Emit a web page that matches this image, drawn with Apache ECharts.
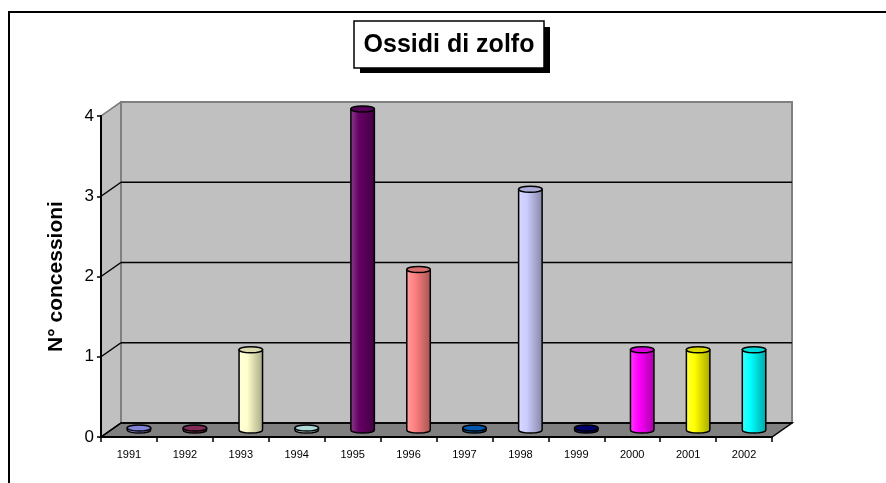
<!DOCTYPE html>
<html>
<head>
<meta charset="utf-8">
<title>Ossidi di zolfo</title>
<script src="https://cdn.jsdelivr.net/npm/echarts@6.0.0/dist/echarts.min.js"></script>
<style>
  html, body { margin: 0; padding: 0; background: #fff; }
  #chart { width: 886px; height: 483px; }
</style>
</head>
<body>
<div id="chart"></div>
<script>
// Chart data
const categories = ['1991', '1992', '1993', '1994', '1995', '1996', '1997', '1998', '1999', '2000', '2001', '2002'];
const values = [0, 0, 1, 0, 4, 2, 0, 3, 0, 1, 1, 1];
const barColors = ['#9999FF', '#993366', '#FFFFCC', '#CCFFFF', '#660066', '#FF8080',
                   '#0066CC', '#CCCCFF', '#000080', '#FF00FF', '#FFFF00', '#00FFFF'];
const yTicks = [0, 1, 2, 3, 4];

// 3D depth offset of the back wall
const DX = 20;
const DY = -14;

// mix a hex colour with white (amt > 0) or black (amt < 0)
function shade(hex, amt) {
    const n = parseInt(hex.slice(1), 16);
    let rgb = [(n >> 16) & 255, (n >> 8) & 255, n & 255];
    rgb = rgb.map(c => Math.round(amt >= 0 ? c + (255 - c) * amt : c * (1 + amt)));
    return 'rgb(' + rgb.join(',') + ')';
}

// Walls and floor
function renderWalls(params, api) {
    const cs = params.coordSys;
    const l = cs.x, t = cs.y, r = cs.x + cs.width, b = cs.y + cs.height;
    const grey = '#808080';
    return {
        type: 'group',
        children: [
            { type: 'polygon', shape: { points: [[l, t], [l + DX, t + DY], [l + DX, b + DY], [l, b]] },
              style: { fill: '#c0c0c0', stroke: grey, lineWidth: 1.5 } },
            { type: 'rect', shape: { x: l + DX, y: t + DY, width: cs.width, height: cs.height },
              style: { fill: '#c0c0c0', stroke: grey, lineWidth: 2 } },
            { type: 'polygon', shape: { points: [[l, b], [l + DX, b + DY], [r + DX, b + DY], [r, b]] },
              style: { fill: '#808080', stroke: '#000', lineWidth: 1.5 } }
        ]
    };
}

// Gridlines on back wall and side wall
function renderGrid(params, api) {
    const cs = params.coordSys;
    const v = api.value(1);
    const y = api.coord([0, v])[1];
    const l = cs.x, r = cs.x + cs.width;
    const top = v === yTicks[yTicks.length - 1];
    const col = top ? '#808080' : '#000';
    return {
        type: 'group',
        children: [
            { type: 'line', shape: { x1: l, y1: y, x2: l + DX, y2: y + DY },
              style: { stroke: col, lineWidth: 1.5 } },
            { type: 'line', shape: { x1: l + DX, y1: y + DY, x2: r + DX, y2: y + DY },
              style: { stroke: col, lineWidth: top ? 2 : 1.5 } }
        ]
    };
}

// Cylinder bars
function renderCylinder(params, api) {
    const i = api.value(0);
    const v = api.value(1);
    const color = barColors[i];
    const base = api.coord([i, 0]);
    const tip = api.coord([i, v]);
    const cx = base[0] + DX / 2;
    const by = base[1] + DY / 2;
    let ty = tip[1] + DY / 2;
    if (ty > by - 2) ty = by - 2;
    const rx = api.size([1, 0])[0] * 0.21;
    const ry = 3;
    const body = `M${cx - rx},${ty} L${cx - rx},${by} A${rx},${ry} 0 0 0 ${cx + rx},${by} L${cx + rx},${ty} Z`;
    const cap = `M${cx - rx},${ty} A${rx},${ry} 0 1 0 ${cx + rx},${ty} A${rx},${ry} 0 1 0 ${cx - rx},${ty} Z`;
    return {
        type: 'group',
        children: [
            { type: 'path', shape: { pathData: body },
              style: {
                  fill: {
                      type: 'linear', x: 0, y: 0, x2: 1, y2: 0,
                      colorStops: [
                          { offset: 0, color: shade(color, 0.25) },
                          { offset: 0.35, color: color },
                          { offset: 1, color: shade(color, -0.35) }
                      ]
                  },
                  stroke: '#000', lineWidth: 1.5
              } },
            { type: 'path', shape: { pathData: cap },
              style: { fill: shade(color, -0.15), stroke: '#000', lineWidth: 1.5 } }
        ]
    };
}

const chart = echarts.init(document.getElementById('chart'));

chart.setOption({
    animation: false,
    textStyle: { fontFamily: 'Arial, "Liberation Sans", sans-serif' },
    graphic: [
        { type: 'rect', shape: { x: 9, y: 12, width: 900, height: 500 },
          style: { fill: 'none', stroke: '#000', lineWidth: 2 } },
        { type: 'rect', shape: { x: 360, y: 27, width: 190, height: 46 },
          style: { fill: '#000' } },
        { type: 'rect', shape: { x: 354, y: 21, width: 190, height: 47 },
          style: { fill: '#fff', stroke: '#000', lineWidth: 1.5 } },
        { type: 'text', x: 449, y: 45,
          style: { text: 'Ossidi di zolfo', fill: '#000', font: 'bold 25px Arial, "Liberation Sans", sans-serif',
                   align: 'center', verticalAlign: 'middle' } }
    ],
    grid: { left: 101, top: 116, width: 671, height: 321 },
    xAxis: {
        type: 'category',
        data: categories,
        z: 10,
        axisLine: { lineStyle: { color: '#000', width: 2 } },
        axisTick: { show: true, length: 5, interval: 0, lineStyle: { color: '#000', width: 1.5 } },
        axisLabel: { color: '#000', fontSize: 11, margin: 12, interval: 0 },
        splitLine: { show: false }
    },
    yAxis: {
        type: 'value',
        min: 0,
        max: 4,
        interval: 1,
        z: 10,
        name: 'N° concessioni',
        nameLocation: 'middle',
        nameGap: 34,
        nameTextStyle: { color: '#000', fontSize: 21, fontWeight: 'bold' },
        axisLine: { show: true, lineStyle: { color: '#000', width: 2 } },
        axisTick: { show: true, length: 4, lineStyle: { color: '#000', width: 1.5 } },
        axisLabel: { color: '#000', fontSize: 17, margin: 7 },
        splitLine: { show: false }
    },
    series: [
        {
            type: 'custom',
            name: 'walls',
            renderItem: renderWalls,
            data: [[0, 0]],
            silent: true,
            z: 0
        },
        {
            type: 'custom',
            name: 'grid',
            renderItem: renderGrid,
            data: yTicks.map(v => [0, v]),
            silent: true,
            z: 1
        },
        {
            type: 'custom',
            name: 'N° concessioni',
            renderItem: renderCylinder,
            data: values.map((v, i) => [i, v]),
            z: 3
        }
    ]
});
</script>
</body>
</html>
